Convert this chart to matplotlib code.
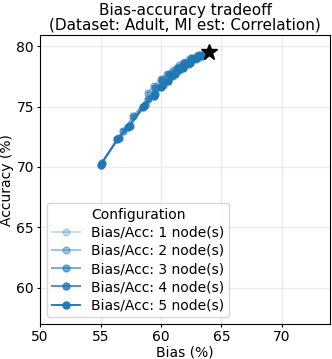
import matplotlib
matplotlib.use("Agg")
import matplotlib.pyplot as plt

# bias / accuracy per configuration (number of nodes)
node_counts = [1, 2, 3, 4, 5]
bias = {
    1: [61.8, 62.3, 62.8, 63.3, 63.7],
    2: [58.9, 59.4, 60.0, 60.5, 61.0, 61.5, 62.0, 62.6, 63.2],
    3: [56.9, 57.7, 58.9, 59.5, 60.1, 60.7, 61.3, 61.9, 62.5, 63.1],
    4: [55.1, 56.5, 57.4, 58.7, 59.5, 60.2, 60.9, 61.5, 62.2, 62.8, 63.4],
    5: [55.0, 56.4, 57.3, 58.5, 59.4, 60.0, 60.6, 61.2, 61.8, 62.4, 63.0, 63.5],
}
accuracy = {
    1: [78.6, 78.9, 79.1, 79.3, 79.45],
    2: [76.1, 76.7, 77.3, 77.7, 78.0, 78.4, 78.7, 79.0, 79.3],
    3: [73.0, 74.2, 75.6, 76.5, 77.2, 77.7, 78.2, 78.6, 79.0, 79.3],
    4: [70.3, 72.4, 73.4, 75.1, 76.0, 76.8, 77.5, 78.0, 78.5, 78.9, 79.2],
    5: [70.2, 72.3, 73.3, 75.0, 75.9, 76.6, 77.1, 77.7, 78.2, 78.6, 79.0, 79.3],
}
acc_err = 0.12
baseline = (64.0, 79.55)

alphas = [0.25, 0.42, 0.6, 0.8, 0.95]

fig = plt.figure(figsize=(3.32, 3.59), dpi=100)
ax = fig.add_axes([0.121, 0.097, 0.873, 0.805])

for k, a in zip(node_counts, alphas):
    ax.errorbar(bias[k], accuracy[k], yerr=acc_err, color="tab:blue", alpha=a,
                marker="o", markersize=5, linewidth=1.4, capsize=2.5,
                label=f"Bias/Acc: {k} node(s)")

ax.plot(baseline[0], baseline[1], marker="*", color="black", markersize=12,
        linestyle="none", zorder=5)

ax.set_xlim(50, 74)
ax.set_ylim(57, 80.9)
ax.set_xticks([50, 55, 60, 65, 70])
ax.set_yticks([60, 65, 70, 75, 80])
ax.grid(True, color="#ebebeb", linewidth=1)
ax.set_axisbelow(True)
ax.tick_params(labelsize=10, length=2.5, pad=2)
ax.set_xlabel("Bias (%)", fontsize=10, labelpad=1)
ax.set_ylabel("Accuracy (%)", fontsize=10, labelpad=2)
ax.set_title("Bias-accuracy tradeoff\n(Dataset: Adult, MI est: Correlation)",
             fontsize=11, pad=4, linespacing=0.95)

# legend shows only line + marker, no error caps
handles, labels = ax.get_legend_handles_labels()
handles = [h[0] for h in handles]
ax.legend(handles, labels, title="Configuration", loc="lower left",
          fontsize=10, title_fontsize=10, labelspacing=0.3, borderpad=0.35)

fig.savefig("out.png", dpi=100)
